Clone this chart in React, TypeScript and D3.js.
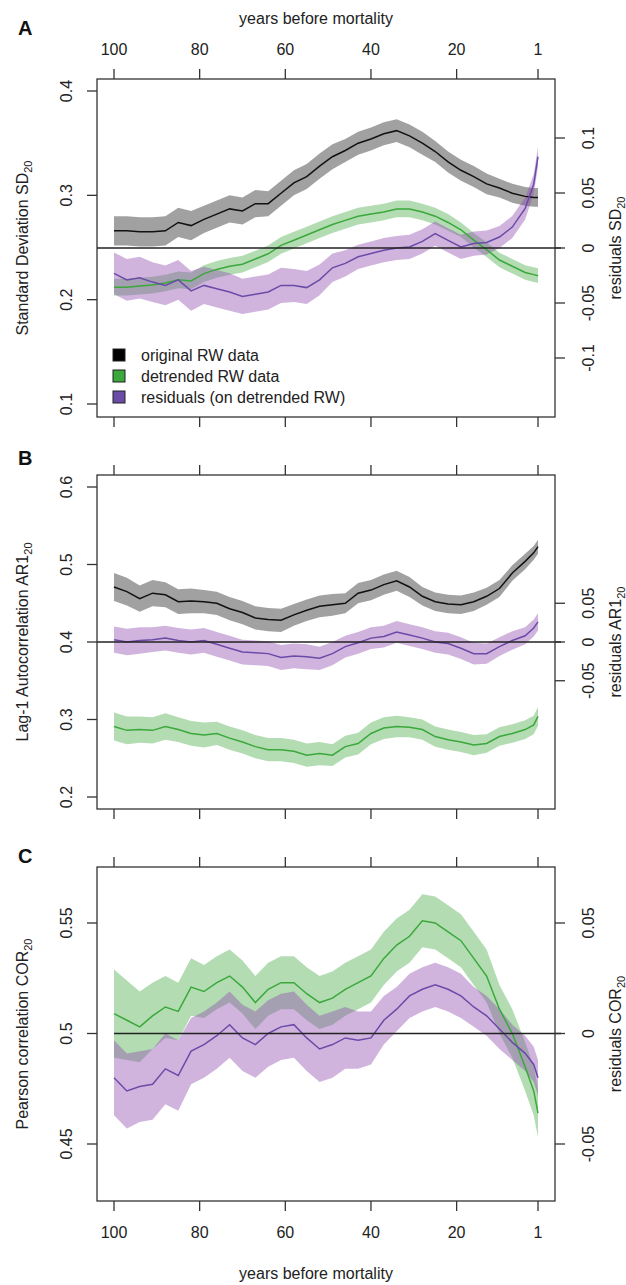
import React from "react";
import * as d3 from "d3";

// years before mortality (x positions of the sampled points)
const years = [100, 97, 94, 91, 88, 85, 82, 79, 76, 73, 70, 67, 64, 61, 58, 55, 52, 49, 46, 43, 40, 37, 34, 31, 28, 25, 22, 19, 16, 13, 10, 7, 4, 2, 1];
const xTickYears = [100, 80, 60, 40, 20, 1];

// Panel A: standard deviation
const sdOriginal = [0.266, 0.266, 0.265, 0.265, 0.266, 0.274, 0.271, 0.277, 0.282, 0.287, 0.285, 0.292, 0.292, 0.302, 0.312, 0.318, 0.328, 0.337, 0.343, 0.350, 0.354, 0.359, 0.362, 0.357, 0.350, 0.342, 0.332, 0.324, 0.318, 0.311, 0.307, 0.302, 0.299, 0.298, 0.298];
const sdOriginalCI = [0.014, 0.014, 0.014, 0.014, 0.014, 0.014, 0.014, 0.013, 0.013, 0.013, 0.013, 0.013, 0.012, 0.012, 0.012, 0.012, 0.012, 0.012, 0.011, 0.011, 0.011, 0.011, 0.011, 0.011, 0.011, 0.010, 0.010, 0.010, 0.010, 0.010, 0.009, 0.009, 0.009, 0.009, 0.009];
const sdDetrended = [0.212, 0.212, 0.213, 0.214, 0.216, 0.219, 0.218, 0.225, 0.229, 0.232, 0.234, 0.239, 0.244, 0.252, 0.257, 0.262, 0.267, 0.272, 0.276, 0.280, 0.282, 0.284, 0.287, 0.287, 0.284, 0.280, 0.274, 0.267, 0.257, 0.248, 0.238, 0.232, 0.226, 0.224, 0.223];
const sdDetrendedCI = [0.008, 0.008, 0.008, 0.008, 0.008, 0.008, 0.008, 0.008, 0.008, 0.008, 0.008, 0.008, 0.008, 0.008, 0.008, 0.008, 0.008, 0.008, 0.008, 0.008, 0.008, 0.008, 0.008, 0.008, 0.008, 0.008, 0.008, 0.007, 0.007, 0.007, 0.007, 0.007, 0.007, 0.007, 0.007];
const sdResiduals = [-0.023, -0.029, -0.027, -0.031, -0.034, -0.029, -0.039, -0.034, -0.037, -0.040, -0.044, -0.042, -0.040, -0.034, -0.034, -0.036, -0.029, -0.018, -0.014, -0.008, -0.005, -0.002, 0.000, 0.001, 0.006, 0.013, 0.007, 0.001, 0.004, 0.005, 0.010, 0.019, 0.036, 0.058, 0.083];
const sdResidualsCI = [0.019, 0.019, 0.019, 0.018, 0.018, 0.018, 0.018, 0.017, 0.017, 0.017, 0.016, 0.016, 0.016, 0.016, 0.015, 0.015, 0.014, 0.013, 0.012, 0.011, 0.011, 0.011, 0.011, 0.011, 0.011, 0.011, 0.011, 0.011, 0.011, 0.011, 0.010, 0.010, 0.010, 0.009, 0.009];

// Panel B: lag-1 autocorrelation
const arOriginal = [0.471, 0.465, 0.456, 0.463, 0.461, 0.452, 0.453, 0.452, 0.450, 0.443, 0.438, 0.431, 0.429, 0.428, 0.435, 0.441, 0.446, 0.448, 0.450, 0.463, 0.467, 0.474, 0.479, 0.471, 0.459, 0.452, 0.449, 0.448, 0.452, 0.459, 0.469, 0.489, 0.504, 0.515, 0.523];
const arOriginalCI = [0.018, 0.018, 0.017, 0.017, 0.016, 0.016, 0.016, 0.015, 0.015, 0.015, 0.015, 0.015, 0.015, 0.015, 0.014, 0.014, 0.014, 0.014, 0.013, 0.013, 0.013, 0.013, 0.013, 0.013, 0.012, 0.012, 0.012, 0.012, 0.012, 0.011, 0.011, 0.010, 0.010, 0.009, 0.009];
const arDetrended = [0.291, 0.286, 0.287, 0.286, 0.291, 0.287, 0.282, 0.280, 0.282, 0.276, 0.271, 0.265, 0.261, 0.261, 0.259, 0.254, 0.256, 0.254, 0.265, 0.269, 0.282, 0.289, 0.291, 0.290, 0.287, 0.278, 0.274, 0.271, 0.267, 0.269, 0.278, 0.282, 0.287, 0.293, 0.304];
const arDetrendedCI = [0.018, 0.018, 0.017, 0.017, 0.017, 0.016, 0.016, 0.016, 0.015, 0.015, 0.015, 0.015, 0.015, 0.015, 0.015, 0.015, 0.015, 0.014, 0.014, 0.014, 0.014, 0.014, 0.014, 0.013, 0.013, 0.013, 0.013, 0.013, 0.013, 0.012, 0.012, 0.012, 0.012, 0.012, 0.012];
const arResiduals = [0.003, 0.000, 0.002, 0.003, 0.005, 0.002, 0.000, 0.002, -0.003, -0.008, -0.013, -0.014, -0.015, -0.020, -0.018, -0.019, -0.021, -0.015, -0.006, -0.001, 0.005, 0.007, 0.013, 0.009, 0.005, 0.000, -0.002, -0.008, -0.015, -0.015, -0.006, 0.002, 0.008, 0.018, 0.026];
const arResidualsCI = [0.017, 0.017, 0.017, 0.016, 0.016, 0.016, 0.016, 0.016, 0.016, 0.016, 0.016, 0.016, 0.016, 0.016, 0.016, 0.016, 0.015, 0.015, 0.014, 0.014, 0.014, 0.014, 0.014, 0.014, 0.014, 0.014, 0.014, 0.014, 0.014, 0.013, 0.012, 0.012, 0.011, 0.011, 0.011];

// Panel C: Pearson correlation
const corDetrended = [0.509, 0.506, 0.503, 0.508, 0.512, 0.510, 0.521, 0.519, 0.523, 0.526, 0.521, 0.514, 0.520, 0.523, 0.523, 0.518, 0.514, 0.516, 0.520, 0.523, 0.526, 0.534, 0.540, 0.544, 0.551, 0.550, 0.546, 0.542, 0.534, 0.526, 0.511, 0.500, 0.485, 0.474, 0.464];
const corDetrendedCI = [0.020, 0.018, 0.016, 0.015, 0.014, 0.013, 0.013, 0.012, 0.012, 0.012, 0.012, 0.012, 0.012, 0.012, 0.012, 0.012, 0.012, 0.012, 0.012, 0.012, 0.012, 0.012, 0.012, 0.012, 0.012, 0.012, 0.012, 0.012, 0.012, 0.012, 0.011, 0.011, 0.011, 0.011, 0.011];
const corResiduals = [-0.020, -0.026, -0.024, -0.023, -0.016, -0.019, -0.008, -0.005, -0.001, 0.004, -0.002, -0.005, 0.000, 0.003, 0.004, -0.002, -0.007, -0.005, -0.002, -0.003, -0.002, 0.006, 0.011, 0.017, 0.020, 0.022, 0.020, 0.017, 0.012, 0.008, 0.002, -0.004, -0.009, -0.014, -0.020];
const corResidualsCI = [0.017, 0.017, 0.016, 0.016, 0.016, 0.016, 0.015, 0.015, 0.015, 0.015, 0.015, 0.015, 0.015, 0.015, 0.015, 0.015, 0.015, 0.015, 0.014, 0.013, 0.012, 0.011, 0.010, 0.010, 0.010, 0.010, 0.010, 0.010, 0.009, 0.009, 0.009, 0.008, 0.008, 0.008, 0.008];

const legendLabels = ["original RW data", "detrended RW data", "residuals (on detrended RW)"];

const FONT = "'Liberation Sans', Arial, Helvetica, sans-serif";
const INK = "#222";
const FRAME = "#333";

const col = {
  black: { line: "#111111", band: "#000000", op: 0.37 },
  green: { line: "#3aa83a", band: "#41a741", op: 0.4 },
  purple: { line: "#6a4ba8", band: "#8e4cae", op: 0.42 },
};

const boxLeft = 97;
const boxRight = 555;
const x = d3.scaleLinear().domain([100, 1]).range([114, 538]);

type Series = { values: number[]; ci: number[]; c: { line: string; band: string; op: number }; axis: "left" | "right" };

const panels = [
  {
    letter: "A",
    letterY: 35,
    top: 79,
    bottom: 417,
    yl: d3.scaleLinear().domain([0.1, 0.4]).range([404, 91]),
    yr: d3.scaleLinear().domain([-0.1, 0.1]).range([358, 138]),
    leftTicks: [0.1, 0.2, 0.3, 0.4],
    rightTicks: [-0.1, -0.05, 0, 0.05, 0.1],
    leftTitle: ["Standard Deviation SD", "20"],
    rightTitle: ["residuals SD", "20"],
    zeroFrom: boxLeft,
    series: [
      { values: sdOriginal, ci: sdOriginalCI, c: col.black, axis: "left" },
      { values: sdDetrended, ci: sdDetrendedCI, c: col.green, axis: "left" },
      { values: sdResiduals, ci: sdResidualsCI, c: col.purple, axis: "right" },
    ] as Series[],
    topLabels: true,
    bottomLabels: false,
    legend: true,
  },
  {
    letter: "B",
    letterY: 465,
    top: 475,
    bottom: 809,
    yl: d3.scaleLinear().domain([0.2, 0.6]).range([797, 487]),
    yr: d3.scaleLinear().domain([-0.2, 0.2]).range([797, 487]),
    leftTicks: [0.2, 0.3, 0.4, 0.5, 0.6],
    rightTicks: [-0.05, 0, 0.05],
    leftTitle: ["Lag-1 Autocorrelation AR1", "20"],
    rightTitle: ["residuals AR1", "20"],
    zeroFrom: boxLeft,
    series: [
      { values: arOriginal, ci: arOriginalCI, c: col.black, axis: "left" },
      { values: arDetrended, ci: arDetrendedCI, c: col.green, axis: "left" },
      { values: arResiduals, ci: arResidualsCI, c: col.purple, axis: "right" },
    ] as Series[],
    topLabels: false,
    bottomLabels: false,
    legend: false,
  },
  {
    letter: "C",
    letterY: 863,
    top: 867,
    bottom: 1201,
    yl: d3.scaleLinear().domain([0.45, 0.55]).range([1144, 923]),
    yr: d3.scaleLinear().domain([-0.05, 0.05]).range([1144, 923]),
    leftTicks: [0.45, 0.5, 0.55],
    rightTicks: [-0.05, 0, 0.05],
    leftTitle: ["Pearson correlation COR", "20"],
    rightTitle: ["residuals COR", "20"],
    zeroFrom: 114,
    series: [
      { values: corDetrended, ci: corDetrendedCI, c: col.green, axis: "left" },
      { values: corResiduals, ci: corResidualsCI, c: col.purple, axis: "right" },
    ] as Series[],
    topLabels: false,
    bottomLabels: true,
    legend: false,
  },
];

const fmt = (v: number) => String(v);

function Panel({ p }: { p: (typeof panels)[number] }) {
  const midY = (p.top + p.bottom) / 2;
  const zeroY = p.yr(0);
  return (
    <g>
      {/* confidence bands */}
      {p.series.map((s, i) => {
        const y = s.axis === "left" ? p.yl : p.yr;
        const area = d3
          .area<number>()
          .x((_, k) => x(years[k]))
          .y0((v, k) => y(v - s.ci[k]))
          .y1((v, k) => y(v + s.ci[k]));
        return <path key={"b" + i} d={area(s.values) || ""} fill={s.c.band} fillOpacity={s.c.op} stroke="none" />;
      })}
      {/* mean lines */}
      {p.series.map((s, i) => {
        const y = s.axis === "left" ? p.yl : p.yr;
        const line = d3
          .line<number>()
          .x((_, k) => x(years[k]))
          .y((v) => y(v));
        return <path key={"l" + i} d={line(s.values) || ""} fill="none" stroke={s.c.line} strokeWidth={1.5} />;
      })}
      <line x1={p.zeroFrom} x2={561} y1={zeroY} y2={zeroY} stroke={INK} strokeWidth={1.3} />

      {/* frame */}
      <rect x={boxLeft} y={p.top} width={boxRight - boxLeft} height={p.bottom - p.top} fill="none" stroke={FRAME} strokeWidth={1.3} />

      {/* x ticks top and bottom */}
      {xTickYears.map((yr) => (
        <g key={"xt" + yr}>
          <line x1={x(yr)} x2={x(yr)} y1={p.top} y2={p.top - 10} stroke={FRAME} strokeWidth={1.3} />
          <line x1={x(yr)} x2={x(yr)} y1={p.bottom} y2={p.bottom + 10} stroke={FRAME} strokeWidth={1.3} />
          {p.topLabels && (
            <text x={x(yr)} y={55} textAnchor="middle" fontSize={16} fill={INK}>
              {yr}
            </text>
          )}
          {p.bottomLabels && (
            <text x={x(yr)} y={1238} textAnchor="middle" fontSize={16} fill={INK}>
              {yr}
            </text>
          )}
        </g>
      ))}

      {/* left axis */}
      {p.leftTicks.map((t) => (
        <g key={"lt" + t}>
          <line x1={boxLeft} x2={boxLeft - 10} y1={p.yl(t)} y2={p.yl(t)} stroke={FRAME} strokeWidth={1.3} />
          <text transform={`translate(72,${p.yl(t)}) rotate(-90)`} textAnchor="middle" fontSize={16} fill={INK}>
            {fmt(t)}
          </text>
        </g>
      ))}
      {/* right axis */}
      {p.rightTicks.map((t) => (
        <g key={"rt" + t}>
          <line x1={boxRight} x2={boxRight + 10} y1={p.yr(t)} y2={p.yr(t)} stroke={FRAME} strokeWidth={1.3} />
          <text transform={`translate(594,${p.yr(t)}) rotate(-90)`} textAnchor="middle" fontSize={16} fill={INK}>
            {fmt(t)}
          </text>
        </g>
      ))}

      <text transform={`translate(28,${midY}) rotate(-90)`} textAnchor="middle" fontSize={16} fill={INK}>
        {p.leftTitle[0]}
        <tspan fontSize={11} dy={4}>
          {p.leftTitle[1]}
        </tspan>
      </text>
      <text transform={`translate(621,${midY}) rotate(-90)`} textAnchor="middle" fontSize={16} fill={INK}>
        {p.rightTitle[0]}
        <tspan fontSize={11} dy={4}>
          {p.rightTitle[1]}
        </tspan>
      </text>

      <text x={18} y={p.letterY} fontSize={20} fontWeight="bold" fill="#111">
        {p.letter}
      </text>

      {p.legend &&
        legendLabels.map((lab, i) => {
          const c = [col.black, col.green, col.purple][i];
          const cy = 355 + i * 21;
          return (
            <g key={lab}>
              <rect x={113} y={cy - 6} width={12} height={12} fill={i === 0 ? "#000" : c.line} stroke="#222" strokeWidth={1} />
              <text x={141} y={cy + 6} fontSize={16} fill={INK}>
                {lab}
              </text>
            </g>
          );
        })}
    </g>
  );
}

export default function App() {
  return (
    <svg
      width={626}
      height={1285}
      style={{ position: "absolute", left: 0, top: 0, background: "#fff", fontFamily: FONT }}
    >
      <rect width={626} height={1285} fill="#fff" />
      <text x={316} y={24} textAnchor="middle" fontSize={16} fill={INK}>
        years before mortality
      </text>
      {panels.map((p) => (
        <Panel key={p.letter} p={p} />
      ))}
      <text x={316} y={1279} textAnchor="middle" fontSize={16} fill={INK}>
        years before mortality
      </text>
    </svg>
  );
}
